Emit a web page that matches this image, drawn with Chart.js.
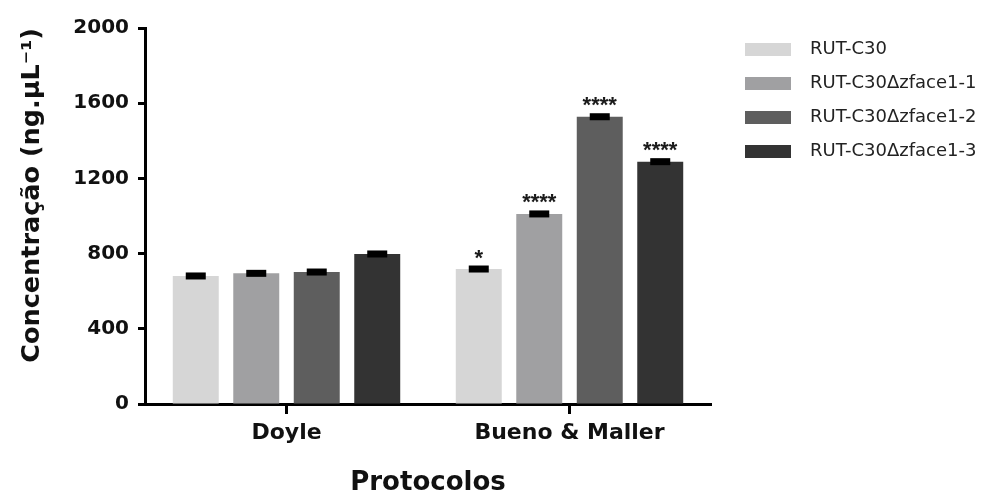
<!DOCTYPE html>
<html>
<head>
<meta charset="utf-8">
<title>Concentração por protocolo</title>
<script src="https://cdn.jsdelivr.net/npm/chart.js@4/dist/chart.umd.min.js"></script>
<style>
  html, body { margin: 0; padding: 0; background: #ffffff; }
  #wrap { width: 990px; height: 499px; }
</style>
</head>
<body>
<div id="wrap"><canvas id="chart" width="990" height="499"></canvas></div>
<script>
// Extraction protocols (x categories)
const categories = ['Doyle', 'Bueno & Maller'];

// Strains (one series each)
const seriesNames = ['RUT-C30', 'RUT-C30Δzface1-1', 'RUT-C30Δzface1-2', 'RUT-C30Δzface1-3'];

// Mean DNA concentration (ng/µL) per protocol
const rutC30   = [681, 718];
const zface1_1 = [695, 1011];
const zface1_2 = [702, 1528];
const zface1_3 = [798, 1289];

// Standard deviation per protocol
const err_rutC30   = [8, 8];
const err_zface1_1 = [8, 8];
const err_zface1_2 = [8, 8];
const err_zface1_3 = [8, 8];

// Significance marks per protocol
const sig_rutC30   = ['', '*'];
const sig_zface1_1 = ['', '****'];
const sig_zface1_2 = ['', '****'];
const sig_zface1_3 = ['', '****'];

// Y axis ticks
const yTicks = [0, 400, 800, 1200, 1600, 2000];

const seriesValues = [rutC30, zface1_1, zface1_2, zface1_3];
const seriesErr = [err_rutC30, err_zface1_1, err_zface1_2, err_zface1_3];
const seriesSig = [sig_rutC30, sig_zface1_1, sig_zface1_2, sig_zface1_3];
const seriesColors = ['#d6d6d6', '#a0a0a2', '#5e5e5e', '#333333'];

const BOLD = '"DejaVu Sans", "Liberation Sans", sans-serif';

// Legend swatch: a 46x13 filled block inside a slightly wider canvas,
// so the label text sits further right of the block.
function swatch(color) {
  const c = document.createElement('canvas');
  c.width = 56; c.height = 13;
  const g = c.getContext('2d');
  g.fillStyle = color;
  g.fillRect(0, 0, 46, 13);
  return c;
}

// Error bars and significance asterisks drawn on top of the bars
const errorMarks = {
  id: 'errorMarks',
  afterDatasetsDraw(chart) {
    const ctx = chart.ctx;
    const ys = chart.scales.y;
    ctx.save();
    chart.data.datasets.forEach((ds, i) => {
      const meta = chart.getDatasetMeta(i);
      meta.data.forEach((bar, j) => {
        const v = ds.data[j];
        const e = seriesErr[i][j];
        const yHi = ys.getPixelForValue(v + e);
        const yLo = ys.getPixelForValue(v - e);
        ctx.fillStyle = '#000000';
        ctx.fillRect(bar.x - 10, yHi - 2, 20, (yLo - yHi) + 4);
        const s = seriesSig[i][j];
        if (s) {
          ctx.font = 'bold 22px "Liberation Sans", Arial, sans-serif';
          ctx.textAlign = 'center';
          ctx.textBaseline = 'alphabetic';
          ctx.fillStyle = '#1a1a1a';
          ctx.fillText(s, bar.x, yHi - 3);
        }
      });
    });
    ctx.restore();
  }
};

// Let the legend box run to the right edge of the canvas so long labels are not clipped
const legendToEdge = {
  id: 'legendToEdge',
  afterLayout(chart) {
    const lg = chart.legend;
    if (lg) {
      lg.right = chart.width;
      lg.width = lg.right - lg.left;
    }
  }
};

const datasets = seriesNames.map((name, i) => ({
  label: name,
  data: seriesValues[i],
  backgroundColor: seriesColors[i],
  borderWidth: 0,
  categoryPercentage: 0.855,
  barPercentage: 0.76
}));

new Chart(document.getElementById('chart'), {
  type: 'bar',
  data: { labels: categories, datasets },
  plugins: [errorMarks, legendToEdge],
  options: {
    responsive: false,
    animation: false,
    events: [],
    layout: { padding: { top: 24, right: 111, bottom: 0, left: 0 } },
    plugins: {
      tooltip: { enabled: false },
      title: { display: false },
      legend: {
        display: true,
        position: 'right',
        align: 'start',
        maxWidth: 150,
        labels: {
          usePointStyle: true,
          pointStyleWidth: 56,
          boxHeight: 13,
          padding: 16,
          color: '#222222',
          font: { family: '"DejaVu Sans", sans-serif', size: 18 },
          generateLabels(chart) {
            const items = Chart.defaults.plugins.legend.labels.generateLabels(chart);
            items.forEach((it, i) => { it.pointStyle = swatch(seriesColors[i]); });
            return items;
          }
        }
      }
    },
    scales: {
      x: {
        type: 'category',
        position: 'bottom',
        z: 1,
        afterFit(s) { s.height = 95; },
        grid: {
          display: true,
          drawOnChartArea: false,
          drawTicks: true,
          offset: false,
          tickLength: 10,
          tickWidth: 3,
          color: '#000000'
        },
        border: { display: true, color: '#000000', width: 3 },
        ticks: {
          padding: 6,
          color: '#111111',
          font: { family: BOLD, size: 22, weight: 'bold' }
        },
        title: {
          display: true,
          text: 'Protocolos',
          color: '#111111',
          padding: { top: 0, bottom: 0 },
          font: { family: BOLD, size: 26, weight: 'bold' }
        }
      },
      xTop: {
        type: 'category',
        axis: 'x',
        position: 'top',
        display: true,
        afterFit(s) { s.height = 4; },
        grid: { display: false },
        border: { display: false },
        ticks: { display: false }
      },
      y: {
        type: 'linear',
        position: 'left',
        min: 0,
        max: 2000,
        z: 1,
        afterFit(s) { s.width = 145; },
        afterBuildTicks(s) { s.ticks = yTicks.map(v => ({ value: v })); },
        grid: {
          display: true,
          drawOnChartArea: false,
          drawTicks: true,
          tickLength: 7,
          tickWidth: 3,
          color: '#000000'
        },
        border: { display: true, color: '#000000', width: 3 },
        ticks: {
          padding: 9,
          color: '#111111',
          font: { family: BOLD, size: 20, weight: 'bold' },
          callback: (v) => String(v)
        },
        title: {
          display: true,
          text: 'Concentração (ng.µL⁻¹)',
          align: 'end',
          color: '#111111',
          padding: { top: 17, bottom: 0 },
          font: { family: BOLD, size: 25.5, weight: 'bold' }
        }
      },
      ySpacer: {
        type: 'linear',
        axis: 'y',
        position: 'right',
        display: true,
        afterFit(s) { s.width = 18; },
        grid: { display: false },
        border: { display: false },
        ticks: { display: false }
      }
    }
  }
});
</script>
</body>
</html>
